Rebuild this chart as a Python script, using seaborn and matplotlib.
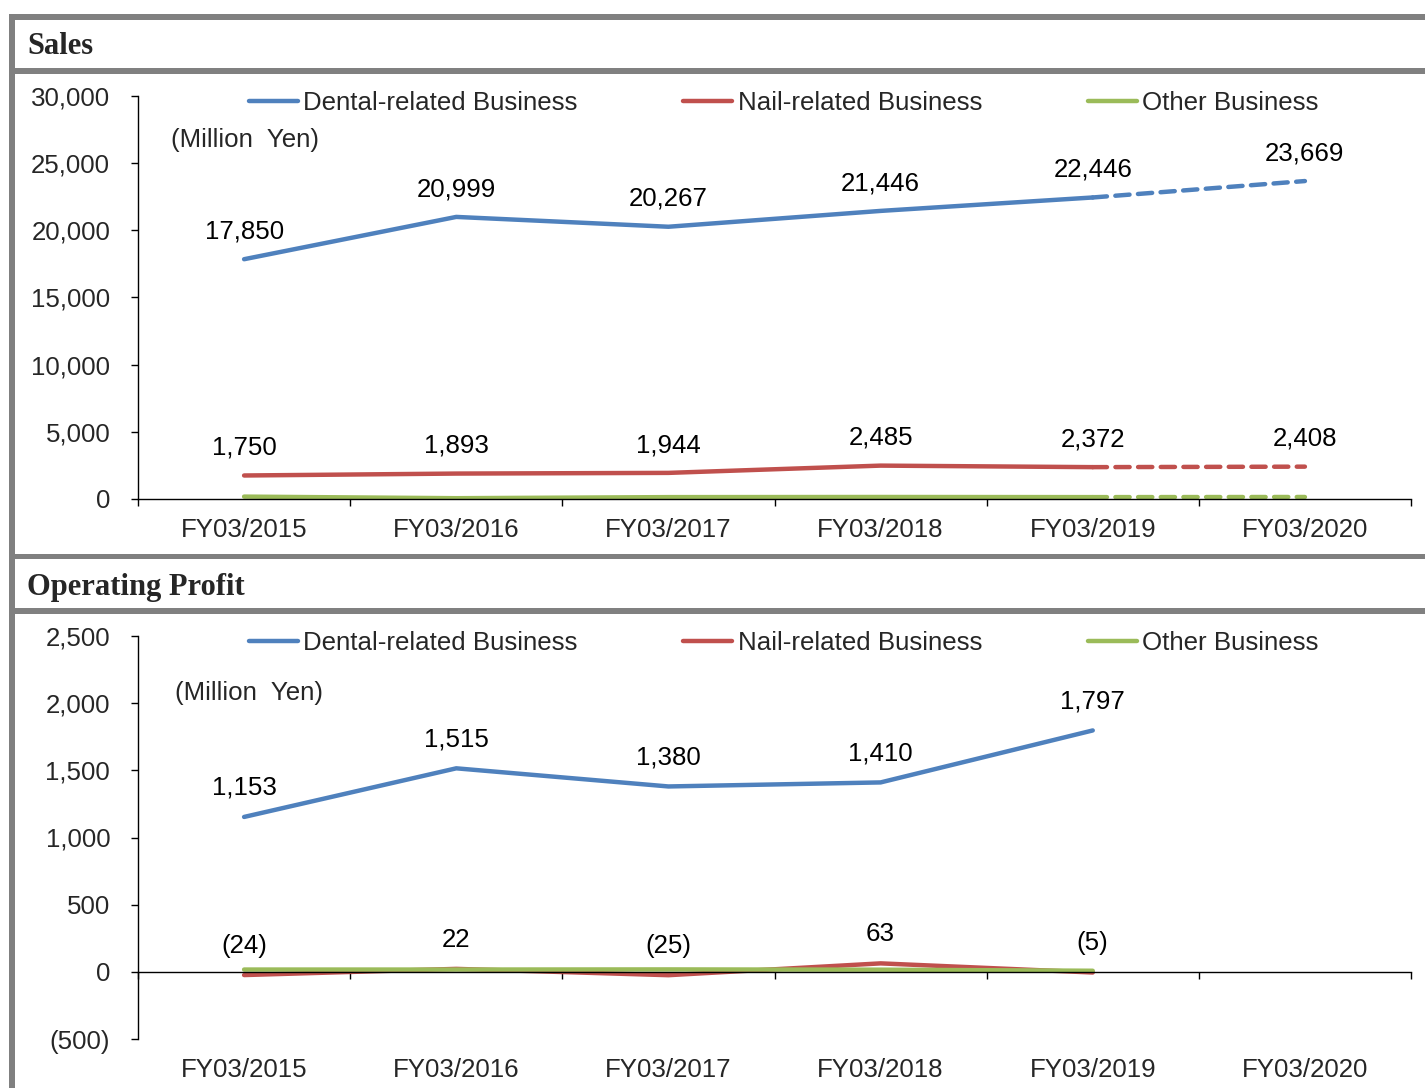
import numpy as np
import pandas as pd
import seaborn as sns
import matplotlib.pyplot as plt
from matplotlib.patches import Rectangle
from matplotlib.ticker import FuncFormatter, FixedLocator

# Data (Million Yen)
years = ["FY03/2015", "FY03/2016", "FY03/2017", "FY03/2018", "FY03/2019", "FY03/2020"]
segments = ["Dental-related Business", "Nail-related Business", "Other Business"]

sales_dental = [17850, 20999, 20267, 21446, 22446, 23669]
sales_nail = [1750, 1893, 1944, 2485, 2372, 2408]
sales_other = [178, 60, 140, 150, 140, 150]

op_dental = [1153, 1515, 1380, 1410, 1797]
op_nail = [-24, 22, -25, 63, -5]
op_other = [17, 17, 18, 16, 8]

colors = {"Dental-related Business": "#4F81BD",
          "Nail-related Business": "#C0504D",
          "Other Business": "#9BBB59"}

W, H = 1425, 1088
FS = 18.6
sns.set_theme(style="white")
plt.rcParams["font.family"] = ["Liberation Sans", "DejaVu Sans"]
fig = plt.figure(figsize=(W / 100, H / 100), dpi=100)


def make_df(series, n):
    rows = []
    for seg, vals in zip(segments, series):
        for i in range(n):
            rows.append({"pos": i, "value": vals[i], "segment": seg})
    return pd.DataFrame(rows)


def fmt(v, _=None):
    return f"{v:,.0f}" if v >= 0 else f"({-v:,.0f})"


def style_axes(ax, ymin, ymax, step, label_pad):
    ax.set_xlim(-0.5, 5.5)
    ax.set_ylim(ymin, ymax)
    ax.set_yticks(np.arange(ymin, ymax + 1, step))
    ax.yaxis.set_major_formatter(FuncFormatter(fmt))
    ax.xaxis.set_major_locator(FixedLocator(np.arange(-0.5, 6, 1)))
    ax.xaxis.set_minor_locator(FixedLocator(np.arange(0, 6, 1)))
    ax.set_xticklabels([], minor=False)
    ax.set_xticklabels(years, minor=True)
    ax.tick_params(axis="x", which="major", direction="out", length=5, width=1,
                   color="black", bottom=True, labelbottom=False)
    ax.tick_params(axis="x", which="minor", length=0, pad=label_pad,
                   labelsize=FS, bottom=True)
    ax.tick_params(axis="y", direction="out", length=5, width=1, color="black",
                   left=True, pad=15, labelsize=FS)
    for s in ["top", "right"]:
        ax.spines[s].set_visible(False)
    for s in ["left", "bottom"]:
        ax.spines[s].set_color("black")
        ax.spines[s].set_linewidth(1)
    ax.set_xlabel("")
    ax.set_ylabel("")
    ax.grid(False)


def add_legend(ax):
    handles = [plt.Line2D([], [], color=colors[s], lw=3.2) for s in segments]
    ax.legend(handles, segments, loc="center left", bbox_to_anchor=(0.087, 0.982),
              ncol=3, frameon=False, fontsize=FS, handlelength=1.9,
              handletextpad=0.2, columnspacing=4.1, borderpad=0, borderaxespad=0)


def label_points(ax, vals, offset=20):
    for i, v in enumerate(vals):
        ax.annotate(fmt(v), (i, v), xytext=(0, offset), textcoords="offset points",
                    ha="center", va="center", fontsize=FS, color="black")


# ---- Sales panel
ax1 = fig.add_axes([138 / W, 1 - 499 / H, 1273 / W, 403 / H])
sales_df = make_df([sales_dental, sales_nail, sales_other], 6)
solid = sales_df[sales_df["pos"] <= 4]
dashed = sales_df[sales_df["pos"] >= 4]
sns.lineplot(data=solid, x="pos", y="value", hue="segment", palette=colors,
             linewidth=3.2, legend=False, ax=ax1, solid_capstyle="round")
sns.lineplot(data=dashed, x="pos", y="value", hue="segment", palette=colors,
             linewidth=3.2, legend=False, ax=ax1, linestyle=(0, (3.2, 1.9)),
             dash_capstyle="round")
style_axes(ax1, 0, 30000, 5000, 14)
add_legend(ax1)
label_points(ax1, sales_dental)
label_points(ax1, sales_nail)
ax1.text(0.026, 0.891, "(Million  Yen)", transform=ax1.transAxes, fontsize=FS,
         ha="left", va="center")

# ---- Operating profit panel
ax2 = fig.add_axes([138 / W, 1 - 1039 / H, 1273 / W, 403 / H])
op_df = make_df([op_dental, op_nail, op_other], 5)
sns.lineplot(data=op_df, x="pos", y="value", hue="segment", palette=colors,
             linewidth=3.2, legend=False, ax=ax2, solid_capstyle="round")
style_axes(ax2, -500, 2500, 500, 62)
ax2.spines["bottom"].set_position(("data", 0))
add_legend(ax2)
label_points(ax2, op_dental, 21)
label_points(ax2, op_nail, 21)
ax2.text(0.029, 0.859, "(Million  Yen)", transform=ax2.transAxes, fontsize=FS,
         ha="left", va="center")

# ---- Header bands and frame
gray = "#808080"


def band(x0, y0, x1, y1):
    fig.add_artist(Rectangle((x0 / W, 1 - y1 / H), (x1 - x0) / W, (y1 - y0) / H,
                             transform=fig.transFigure, color=gray, lw=0))


band(9, 14, W, 20)
band(9, 14, 15, H)
band(9, 68, W, 74)
band(9, 554, W, 559)
band(9, 608, W, 614)

fig.text(27 / W, 1 - 47 / H, "Sales", fontsize=22, fontweight="bold",
         family="Liberation Serif", ha="left", va="center")
fig.text(27 / W, 1 - 587 / H, "Operating Profit", fontsize=22, fontweight="bold",
         family="Liberation Serif", ha="left", va="center")

fig.savefig("out.png", dpi=100, facecolor="white")
